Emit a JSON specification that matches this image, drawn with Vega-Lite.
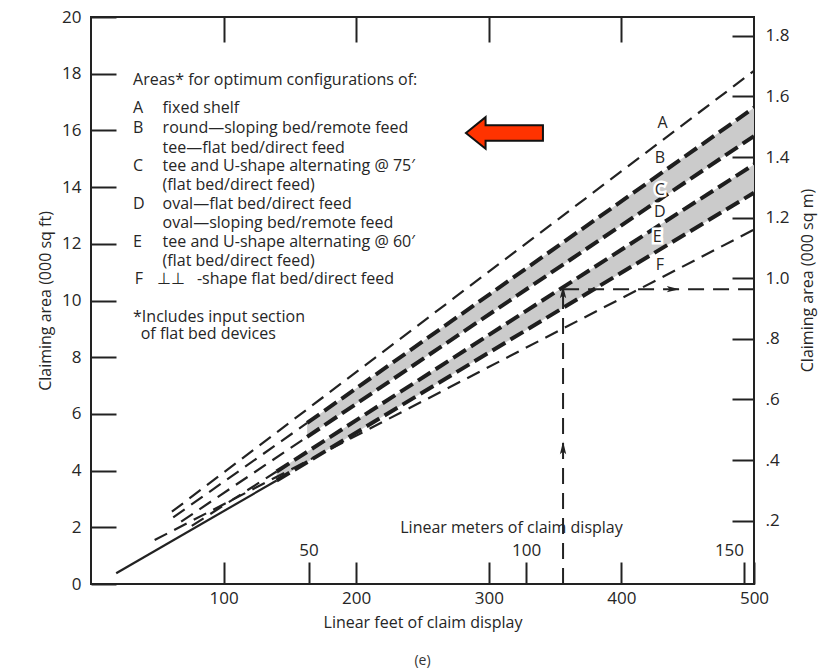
{
  "$schema": "https://vega.github.io/schema/vega-lite/v6.json",
  "width": 663,
  "height": 567,
  "autosize": {"type": "none"},
  "padding": {"left": 91, "top": 17, "right": 67, "bottom": 85},
  "background": "white",
  "config": {
    "font": "Open Sans",
    "view": {"stroke": "#222", "strokeWidth": 2},
    "axis": {
      "labelFont": "Open Sans", "titleFont": "Open Sans",
      "labelColor": "#262626", "titleColor": "#262626",
      "tickColor": "#222", "tickWidth": 2, "domain": false, "grid": false,
      "labelFontSize": 17, "titleFontSize": 16, "titleFontWeight": "normal",
      "labelOverlap": false, "labelFlush": false
    },
    "title": {"font": "Open Sans", "fontSize": 14, "fontWeight": "normal", "color": "#333"}
  },
  "title": {"text": "(e)", "orient": "bottom", "offset": 24},
  "datasets": {
    "lines": [
      {"s": "A", "p": "thin", "x": 61, "y": 2.55}, {"s": "A", "p": "thin", "x": 500, "y": 18.1},
      {"s": "B", "p": "thin", "x": 62, "y": 2.35}, {"s": "B", "p": "thin", "x": 163, "y": 5.68},
      {"s": "B", "p": "heavy", "x": 163, "y": 5.68}, {"s": "B", "p": "heavy", "x": 500, "y": 16.8},
      {"s": "C", "p": "thin", "x": 68, "y": 2.2}, {"s": "C", "p": "thin", "x": 163, "y": 5.19},
      {"s": "C", "p": "heavy", "x": 163, "y": 5.19}, {"s": "C", "p": "heavy", "x": 500, "y": 15.8},
      {"s": "D", "p": "thin", "x": 76, "y": 2.05}, {"s": "D", "p": "thin", "x": 140, "y": 3.97},
      {"s": "D", "p": "heavy", "x": 140, "y": 3.97}, {"s": "D", "p": "heavy", "x": 500, "y": 14.8},
      {"s": "E", "p": "solid", "x": 19, "y": 0.38}, {"s": "E", "p": "solid", "x": 140, "y": 3.65},
      {"s": "E", "p": "heavy", "x": 140, "y": 3.65}, {"s": "E", "p": "heavy", "x": 500, "y": 13.8},
      {"s": "F", "p": "thin", "x": 48, "y": 1.55}, {"s": "F", "p": "thin", "x": 500, "y": 12.5},
      {"s": "V", "p": "guide", "x": 356, "y": 0}, {"s": "V", "p": "guide", "x": 356, "y": 10.4},
      {"s": "H", "p": "guide", "x": 356, "y": 10.4}, {"s": "H", "p": "guide", "x": 500, "y": 10.4}
    ],
    "bands": [
      {"band": "BC", "x": 163, "y": 5.68, "y2": 5.19}, {"band": "BC", "x": 500, "y": 16.8, "y2": 15.8},
      {"band": "DE", "x": 140, "y": 3.97, "y2": 3.65}, {"band": "DE", "x": 500, "y": 14.8, "y2": 13.8}
    ],
    "heads": [
      {"dir": "up", "x": 356, "y": 4.8},
      {"dir": "up", "x": 356, "y": 10.3},
      {"dir": "right", "x": 439, "y": 10.4}
    ],
    "callout": [{"x": 311.8, "y": 15.91}],
    "tags": [
      {"t": "A", "x": 431, "y": 16.26}, {"t": "B", "x": 429, "y": 15.03},
      {"t": "C", "x": 429, "y": 13.9}, {"t": "D", "x": 429, "y": 13.12},
      {"t": "E", "x": 427, "y": 12.24}, {"t": "F", "x": 429, "y": 11.25}
    ],
    "notes": [
      {"t": "Areas* for optimum configurations of:", "x": 31.7, "y": 17.78},
      {"t": "A", "x": 31.7, "y": 16.78}, {"t": "fixed shelf", "x": 54, "y": 16.78},
      {"t": "B", "x": 31.7, "y": 16.07}, {"t": "round—sloping bed/remote feed", "x": 54, "y": 16.07},
      {"t": "tee—flat bed/direct feed", "x": 54, "y": 15.37},
      {"t": "C", "x": 31.7, "y": 14.74}, {"t": "tee and U-shape alternating @ 75′", "x": 54, "y": 14.74},
      {"t": "(flat bed/direct feed)", "x": 54, "y": 14.07},
      {"t": "D", "x": 31.7, "y": 13.4}, {"t": "oval—flat bed/direct feed", "x": 54, "y": 13.4},
      {"t": "oval—sloping bed/remote feed", "x": 54, "y": 12.74},
      {"t": "E", "x": 31.7, "y": 12.05}, {"t": "tee and U-shape alternating @ 60′", "x": 54, "y": 12.05},
      {"t": "(flat bed/direct feed)", "x": 54, "y": 11.4},
      {"t": "F", "x": 33, "y": 10.76}, {"t": "⊥⊥", "x": 49.8, "y": 10.76}, {"t": "-shape flat bed/direct feed", "x": 79.9, "y": 10.76},
      {"t": "*Includes input section", "x": 31.7, "y": 9.43},
      {"t": "of flat bed devices", "x": 37.5, "y": 8.81}
    ],
    "one": [{"v": 0}]
  },
  "layer": [
    {
      "encoding": {
        "x": {
          "field": "x", "type": "quantitative",
          "scale": {"domain": [0, 500], "nice": false, "zero": false},
          "axis": {
            "orient": "bottom", "values": [100, 200, 300, 400, 500],
            "tickSize": -22, "labelPadding": 28,
            "title": "Linear feet of claim display", "titlePadding": 8
          }
        },
        "y": {
          "field": "y", "type": "quantitative",
          "scale": {"domain": [0, 20], "nice": false, "zero": false},
          "axis": {
            "orient": "left", "values": [0, 2, 4, 6, 8, 10, 12, 14, 16, 18, 20],
            "tickSize": -25, "labelPadding": 35,
            "title": "Claiming area (000 sq ft)", "titlePadding": 8
          }
        }
      },
      "layer": [
        {
          "data": {"name": "bands"},
          "mark": {"type": "area", "color": "#cbcbcb", "opacity": 1},
          "encoding": {"y2": {"field": "y2"}, "detail": {"field": "band"}}
        },
        {
          "data": {"name": "lines"},
          "transform": [{"filter": "datum.p === 'thin'"}],
          "mark": {"type": "line", "color": "#222", "strokeWidth": 2.2, "strokeDash": [14, 8]},
          "encoding": {"detail": {"field": "s"}}
        },
        {
          "data": {"name": "lines"},
          "transform": [{"filter": "datum.p === 'heavy'"}],
          "mark": {"type": "line", "color": "#1e1e1e", "strokeWidth": 4, "strokeDash": [15, 6]},
          "encoding": {"detail": {"field": "s"}}
        },
        {
          "data": {"name": "lines"},
          "transform": [{"filter": "datum.p === 'solid'"}],
          "mark": {"type": "line", "color": "#222", "strokeWidth": 2.2},
          "encoding": {"detail": {"field": "s"}}
        },
        {
          "data": {"name": "lines"},
          "transform": [{"filter": "datum.p === 'guide'"}],
          "mark": {"type": "line", "color": "#222", "strokeWidth": 2, "strokeDash": [16, 9]},
          "encoding": {"detail": {"field": "s"}}
        },
        {
          "data": {"name": "heads"},
          "mark": {"type": "point", "filled": true, "color": "#222", "opacity": 1, "size": 160},
          "encoding": {
            "shape": {
              "field": "dir", "type": "nominal",
              "scale": {"domain": ["up", "right"], "range": ["M 0 -1 L 0.5 1 L 0 0.55 L -0.5 1 Z", "M 1 0 L -1 0.5 L -0.55 0 L -1 -0.5 Z"]},
              "legend": null
            }
          }
        },
        {
          "data": {"name": "callout"},
          "mark": {
            "type": "point", "filled": true, "opacity": 1, "size": 5929,
            "shape": "M -1 0 L -0.49 -0.41 L -0.49 -0.2 L 1 -0.2 L 1 0.2 L -0.49 0.2 L -0.49 0.41 Z",
            "fill": "#ff3300", "stroke": "#111", "strokeWidth": 2
          }
        },
        {
          "data": {"name": "tags"},
          "mark": {"type": "text", "fontSize": 16, "stroke": "white", "strokeWidth": 5, "fill": "white", "align": "center", "baseline": "middle"},
          "encoding": {"text": {"field": "t"}}
        },
        {
          "data": {"name": "tags"},
          "mark": {"type": "text", "fontSize": 16, "color": "#262626", "align": "center", "baseline": "middle"},
          "encoding": {"text": {"field": "t"}}
        },
        {
          "data": {"name": "notes"},
          "mark": {"type": "text", "fontSize": 16, "color": "#262626", "align": "left", "baseline": "middle"},
          "encoding": {"text": {"field": "t"}}
        }
      ]
    },
    {
      "data": {"name": "one"},
      "mark": {"type": "point", "opacity": 0},
      "encoding": {
        "x": {
          "field": "v", "type": "quantitative",
          "scale": {"domain": [0, 152.4], "nice": false, "zero": false},
          "axis": {
            "orient": "top", "offset": -567, "values": [50, 100, 150],
            "tickSize": 22, "labelPadding": 3, "labelFlush": 15,
            "title": "Linear meters of claim display", "titlePadding": 6, "titleX": 420
          }
        }
      }
    },
    {
      "data": {"name": "one"},
      "mark": {"type": "point", "opacity": 0},
      "encoding": {
        "y": {
          "field": "v", "type": "quantitative",
          "scale": {"domain": [-0.009, 1.862], "nice": false, "zero": false},
          "axis": {
            "orient": "right", "values": [0.2, 0.4, 0.6, 0.8, 1.0, 1.2, 1.4, 1.6, 1.8],
            "labelExpr": "datum.value < 1 ? '.' + round(datum.value * 10) : format(datum.value, '.1f')",
            "tickSize": -22, "labelPadding": 33,
            "title": "Claiming area (000 sq m)", "titleAngle": -90, "titlePadding": 27, "titleY": 263
          }
        }
      }
    },
    {
      "data": {"name": "one"},
      "mark": {"type": "point", "opacity": 0},
      "encoding": {
        "x": {
          "field": "v", "type": "quantitative",
          "scale": {"domain": [0, 500], "nice": false, "zero": false},
          "axis": {"orient": "top", "values": [100, 200, 300, 400], "tickSize": -25, "labels": false, "title": null}
        }
      }
    }
  ],
  "resolve": {"scale": {"x": "independent", "y": "independent"}}
}
